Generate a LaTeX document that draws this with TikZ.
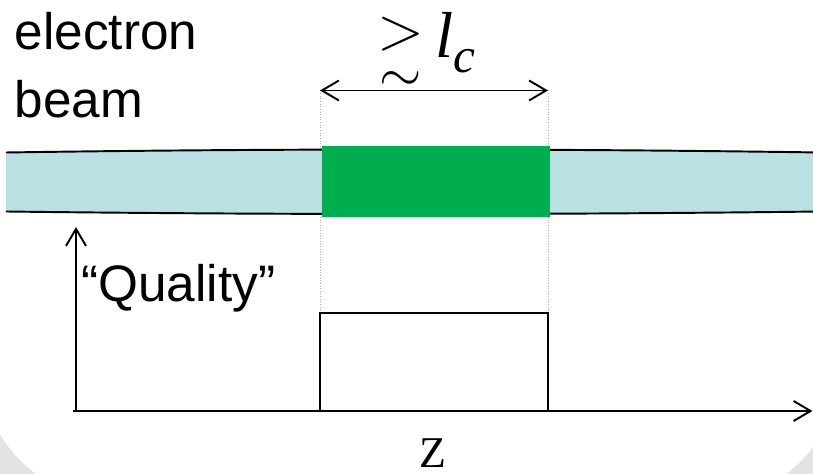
\documentclass[tikz,border=0pt]{standalone}
\usepackage{fix-cm}
\usepackage{fontspec}
\setmainfont{Liberation Sans}
\newfontfamily\timesfont{Liberation Serif}
\usetikzlibrary{arrows.meta}
\definecolor{beamblue}{HTML}{B9E0E3}
\definecolor{bunchgreen}{HTML}{00AD4F}

\begin{document}
\begin{tikzpicture}[
  barb/.style={-{Straight Barb[length=3.4mm,width=4mm]}},
  dblbarb/.style={{Straight Barb[length=3.4mm,width=4mm]}-{Straight Barb[length=3.4mm,width=4mm]}},
  ax/.style={line width=1.1pt},
  guide/.style={densely dotted, gray!60, line width=0.5pt},
  big/.style={font=\fontsize{29.2}{34}\selectfont, inner sep=0pt}]
\useasboundingbox (0,0) rectangle (16.26,9.48);
\clip (0,0) rectangle (16.26,9.48);
% slide frame
\fill[gray!22] (0,0) rectangle (16.26,9.48);
\fill[white, rounded corners=2.8cm] (-0.4,-0.56) rectangle (16.84,11.5);
\path node[big, anchor=base west] (electron) at (0.29,8.48) {electron}
node[big, anchor=base west] (beam) at (0.29,7.13) {beam}
node[big, anchor=base west] (quality) at (1.62,3.45) {``Quality''}
node[inner sep=0pt, anchor=base, font=\timesfont\fontsize{25}{28}\selectfont] (z) at (8.65,0.12) {Z}
node[inner sep=0pt, anchor=north, align=center, font=\fontsize{35}{24}\selectfont] (gtrsim) at (8.02,9.14)
  {$>$\\{\fontsize{31}{24}\selectfont$\sim$}}
node[inner sep=0pt, anchor=base west, font=\timesfont\itshape\fontsize{37}{40}\selectfont] (lc) at (8.70,8.32)
  {l\lower0.3cm\hbox{\fontsize{28}{30}\selectfont c}}
coordinate (ArrL) at (6.40,7.67)
coordinate (ArrR) at (10.96,7.67)
coordinate (O) at (1.52,1.26)
coordinate (Ytip) at (1.52,4.94)
coordinate (X0) at (1.46,1.26)
coordinate (Xtip) at (16.25,1.26)
coordinate (BL) at (6.40,1.26)
coordinate (PL) at (6.40,3.22)
coordinate (PR) at (10.96,3.22)
coordinate (BR) at (10.96,1.26)
;
\draw[guide] (ArrL) -- (PL);
\draw[guide] (ArrR) -- (PR);
% beam with bunch
\fill[beamblue] (0.12,6.43) .. controls (5.5,6.51) and (10.9,6.51) .. (16.4,6.43)
  -- (16.4,5.25) .. controls (10.9,5.183) and (5.5,5.183) .. (0.12,5.25) -- cycle;
\draw[ax] (0.12,6.43) .. controls (5.5,6.51) and (10.9,6.51) .. (16.4,6.43);
\draw[ax] (0.12,5.25) .. controls (5.5,5.183) and (10.9,5.183) .. (16.4,5.25);
\fill[bunchgreen] (6.43,5.14) rectangle (10.99,6.56);
% arrows and pulse
\draw[ax, dblbarb] (ArrL) -- (ArrR);
\draw[ax, barb] (O) -- (Ytip);
\draw[ax, barb] (X0) -- (Xtip);
\draw[ax] (BL) -- (PL) -- (PR) -- (BR);
\end{tikzpicture}
\end{document}
